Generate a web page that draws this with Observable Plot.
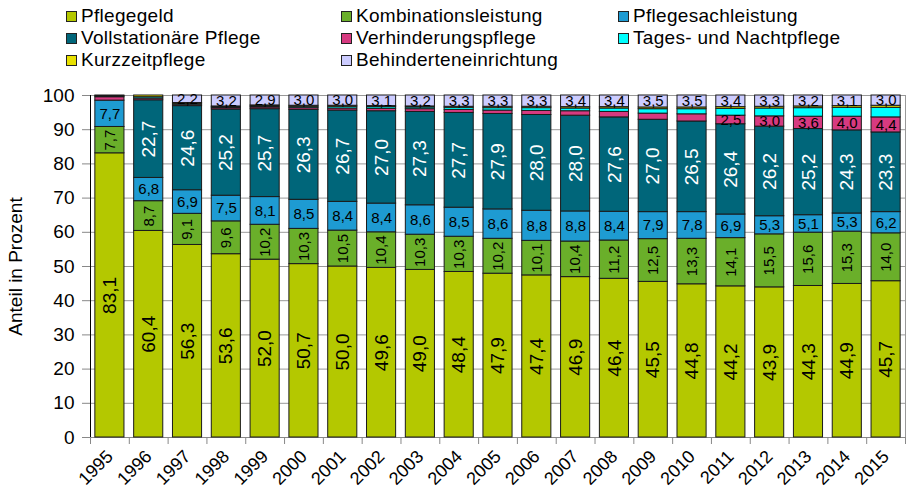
<!DOCTYPE html>
<html><head><meta charset="utf-8">
<script src="https://cdn.jsdelivr.net/npm/d3@7"></script>
<script src="https://cdn.jsdelivr.net/npm/@observablehq/plot@0.6"></script>
<style>
body{margin:0;background:#fff;font-family:"Liberation Sans",Arial,sans-serif;}
#legend{position:relative;width:906px;height:70px;}
.item{position:absolute;display:flex;align-items:center;font-size:19px;letter-spacing:0.3px;line-height:22px;height:22px;white-space:nowrap;color:#000;}
.sw{width:11px;height:11px;border:1px solid #222;margin-right:4px;box-sizing:border-box;}
#chart svg{display:block;}
</style></head><body>
<div id="legend"></div><div id="chart"></div>
<script>
const years = ["1995","1996","1997","1998","1999","2000","2001","2002","2003","2004","2005","2006","2007","2008","2009","2010","2011","2012","2013","2014","2015"];
const seriesNames = ["Pflegegeld","Kombinationsleistung","Pflegesachleistung","Vollstationäre Pflege","Verhinderungspflege","Tages- und Nachtpflege","Kurzzeitpflege","Behinderteneinrichtung"];
const seriesColors = ["#b4c800","#6aaf2a","#1e9bd2","#00667a","#d63a80","#00ffff","#e8e000","#ccccff"];
const pflegegeld   = [83.1,60.4,56.3,53.6,52.0,50.7,50.0,49.6,49.0,48.4,47.9,47.4,46.9,46.4,45.5,44.8,44.2,43.9,44.3,44.9,45.7];
const kombination  = [7.7,8.7,9.1,9.6,10.2,10.3,10.5,10.4,10.3,10.3,10.2,10.1,10.4,11.2,12.5,13.3,14.1,15.5,15.6,15.3,14.0];
const pflegesach   = [7.7,6.8,6.9,7.5,8.1,8.5,8.4,8.4,8.6,8.5,8.6,8.8,8.8,8.4,7.9,7.8,6.9,5.3,5.1,5.3,6.2];
const vollstationaer = [0,22.7,24.6,25.2,25.7,26.3,26.7,27.0,27.3,27.7,27.9,28.0,28.0,27.6,27.0,26.5,26.4,26.2,25.2,24.3,23.3];
const verhinderung = [1.0,0.5,0.4,0.4,0.5,0.5,0.6,0.7,0.8,0.9,1.0,1.2,1.3,1.6,1.8,2.1,2.5,3.0,3.6,4.0,4.4];
const tagesNacht   = [0.3,0.4,0.3,0.3,0.3,0.4,0.5,0.5,0.5,0.6,0.7,0.8,0.8,1.0,1.3,1.5,2.0,2.3,2.5,2.6,2.8];
const kurzzeit     = [0.2,0.5,0.2,0.2,0.3,0.3,0.3,0.3,0.3,0.3,0.4,0.4,0.4,0.4,0.5,0.5,0.5,0.5,0.5,0.5,0.6];
const behinderten  = [0,0,2.2,3.2,2.9,3.0,3.0,3.1,3.2,3.3,3.3,3.3,3.4,3.4,3.5,3.5,3.4,3.3,3.2,3.1,3.0];
const yTicks = [0,10,20,30,40,50,60,70,80,90,100];

const seriesValues = [pflegegeld,kombination,pflegesach,vollstationaer,verhinderung,tagesNacht,kurzzeit,behinderten];
const data = [];
years.forEach((year, i) => {
  seriesNames.forEach((s, k) => data.push({year, series: s, value: seriesValues[k][i]}));
});
const fmt = v => v.toFixed(1).replace(".", ",");
const lab = (name, min = 0.05) => d => (d.series === name && d.value >= min) ? fmt(d.value) : "";

// legend
const legend = document.getElementById("legend");
const colX = [66, 341, 618];
const rowY = [5, 27, 49];
seriesNames.forEach((s, k) => {
  const it = document.createElement("div");
  it.className = "item";
  it.style.left = colX[k % 3] + "px";
  it.style.top = rowY[Math.floor(k / 3)] + "px";
  it.innerHTML = `<span class="sw" style="background:${seriesColors[k]}"></span><span>${s}</span>`;
  legend.appendChild(it);
});

const W = 906, H = 423, mL = 90, mR = 1;
const half = (W - mL - mR) / years.length / 2;
const stackOpts = extra => Plot.stackY({x: "year", y: "value", z: "series", ...extra});

const chart = Plot.plot({
  width: W, height: H,
  marginLeft: mL, marginRight: mR, marginTop: 25, marginBottom: 56,
  style: {fontFamily: '"Liberation Sans", Arial, sans-serif', fontSize: "18px", background: "#fff", color: "#000"},
  x: {type: "band", domain: years, paddingInner: 0.25, paddingOuter: 0.125, round: false},
  y: {domain: [0, 100]},
  color: {domain: seriesNames, range: seriesColors},
  marks: [
    Plot.gridY(yTicks, {stroke: "#999", strokeOpacity: 1}),
    Plot.ruleY([0], {stroke: "#888"}),
    Plot.ruleX([years[years.length - 1]], {x: d => d, dx: half, y1: 0, y2: 100, stroke: "#999"}),
    Plot.barY(data, stackOpts({fill: "series", stroke: "#1a1a1a", strokeWidth: 1})),
    Plot.text(data, stackOpts({text: lab("Pflegegeld"), rotate: -90, fontSize: 19, fill: "#000"})),
    Plot.text(data, stackOpts({text: lab("Kombinationsleistung"), rotate: -90, fontSize: 15, fill: "#000"})),
    Plot.text(data, stackOpts({text: lab("Pflegesachleistung"), fontSize: 15, fill: "#000"})),
    Plot.text(data, stackOpts({text: lab("Vollstationäre Pflege"), rotate: -90, fontSize: 19, fill: "#fff"})),
    Plot.text(data, stackOpts({text: lab("Verhinderungspflege", 2.5), fontSize: 15, fill: "#000"})),
    Plot.text(data, stackOpts({text: lab("Behinderteneinrichtung"), fontSize: 15, fill: "#000"})),
    Plot.ruleX([years[0]], {x: d => d, dx: -half, y1: 0, y2: 100, stroke: "#000"}),
    Plot.ruleX(years, {x: d => d, dx: -half, y1: 0, y2: 0, insetBottom: -7, stroke: "#888"}),
    Plot.ruleX([years[years.length - 1]], {x: d => d, dx: half, y1: 0, y2: 0, insetBottom: -7, stroke: "#888"}),
    Plot.axisY(yTicks, {tickSize: 8, tickPadding: 8, fontSize: 19, stroke: "#888", label: "Anteil in Prozent", labelAnchor: "center", labelArrow: "none", labelOffset: 82}),
    Plot.axisX({tickSize: 0, tickRotate: -45, tickPadding: 16, fontSize: 18, label: null})
  ]
});
document.getElementById("chart").appendChild(chart);
</script>
</body></html>
